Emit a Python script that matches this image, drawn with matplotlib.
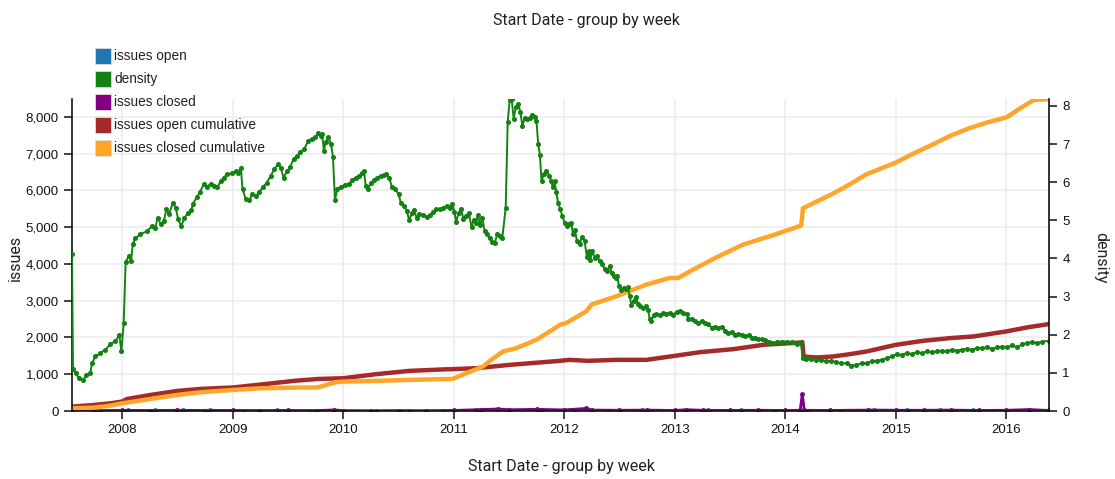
import matplotlib
matplotlib.use("Agg")
import matplotlib.pyplot as plt
import matplotlib.ticker as mticker
import matplotlib.dates as mdates
from matplotlib.patches import Rectangle
import pandas as pd

# values, x given as decimal years
green_years = [2007.547, 2007.556, 2007.583, 2007.607, 2007.647, 2007.677, 2007.713, 2007.728, 2007.758, 2007.804,
               2007.849, 2007.894, 2007.940, 2007.976, 2007.994, 2008.015, 2008.033, 2008.060, 2008.082, 2008.097,
               2008.121, 2008.166, 2008.227, 2008.272, 2008.302, 2008.323, 2008.353, 2008.378, 2008.402, 2008.423,
               2008.462, 2008.486, 2008.508, 2008.535, 2008.565, 2008.595, 2008.625, 2008.644, 2008.674, 2008.704,
               2008.740, 2008.770, 2008.801, 2008.831, 2008.861, 2008.891, 2008.921, 2008.952, 2008.997, 2009.027,
               2009.048, 2009.073, 2009.088, 2009.118, 2009.148, 2009.178, 2009.208, 2009.239, 2009.269, 2009.308,
               2009.344, 2009.375, 2009.411, 2009.435, 2009.459, 2009.489, 2009.520, 2009.550, 2009.580, 2009.610,
               2009.647, 2009.683, 2009.718, 2009.748, 2009.773, 2009.794, 2009.809, 2009.824, 2009.839, 2009.864,
               2009.888, 2009.906, 2009.924, 2009.945, 2009.976, 2010.015, 2010.052, 2010.082, 2010.112, 2010.142,
               2010.173, 2010.188, 2010.203, 2010.227, 2010.248, 2010.279, 2010.309, 2010.339, 2010.370, 2010.391,
               2010.415, 2010.439, 2010.470, 2010.500, 2010.521, 2010.552, 2010.573, 2010.597, 2010.621, 2010.642,
               2010.664, 2010.688, 2010.718, 2010.755, 2010.785, 2010.815, 2010.839, 2010.876, 2010.906, 2010.936,
               2010.961, 2010.985, 2011.006, 2011.021, 2011.045, 2011.067, 2011.088, 2011.112, 2011.136, 2011.161,
               2011.179, 2011.203, 2011.218, 2011.239, 2011.258, 2011.279, 2011.300, 2011.324, 2011.348, 2011.370,
               2011.394, 2011.415, 2011.439, 2011.470, 2011.488, 2011.506, 2011.524, 2011.542, 2011.561, 2011.585,
               2011.603, 2011.621, 2011.642, 2011.664, 2011.688, 2011.712, 2011.733, 2011.748, 2011.764, 2011.779,
               2011.794, 2011.815, 2011.839, 2011.864, 2011.882, 2011.897, 2011.912, 2011.927, 2011.943, 2011.964,
               2011.982, 2012.003, 2012.024, 2012.042, 2012.063, 2012.079, 2012.097, 2012.115, 2012.139, 2012.160,
               2012.184, 2012.205, 2012.224, 2012.236, 2012.254, 2012.275, 2012.296, 2012.320, 2012.344, 2012.366,
               2012.387, 2012.411, 2012.429, 2012.447, 2012.465, 2012.480, 2012.495, 2012.517, 2012.538, 2012.556,
               2012.577, 2012.592, 2012.607, 2012.628, 2012.647, 2012.668, 2012.689, 2012.713, 2012.737, 2012.758,
               2012.773, 2012.789, 2012.810, 2012.834, 2012.864, 2012.894, 2012.924, 2012.955, 2012.985, 2013.015,
               2013.045, 2013.076, 2013.106, 2013.121, 2013.151, 2013.181, 2013.211, 2013.242, 2013.272, 2013.302,
               2013.332, 2013.363, 2013.393, 2013.423, 2013.453, 2013.483, 2013.514, 2013.544, 2013.574, 2013.604,
               2013.634, 2013.665, 2013.695, 2013.725, 2013.755, 2013.785, 2013.816, 2013.846, 2013.876, 2013.921,
               2013.967, 2014.012, 2014.057, 2014.103, 2014.142, 2014.158, 2014.188, 2014.233, 2014.279, 2014.324,
               2014.367, 2014.415, 2014.461, 2014.506, 2014.552, 2014.597, 2014.642, 2014.688, 2014.733, 2014.779,
               2014.824, 2014.870, 2014.915, 2014.961, 2015.006, 2015.052, 2015.097, 2015.142, 2015.188, 2015.233,
               2015.279, 2015.324, 2015.370, 2015.415, 2015.461, 2015.506, 2015.552, 2015.597, 2015.642, 2015.688,
               2015.733, 2015.779, 2015.824, 2015.870, 2015.915, 2015.961, 2016.006, 2016.052, 2016.097, 2016.142,
               2016.188, 2016.233, 2016.279, 2016.324, 2016.385]
density = [4.12, 1.10, 0.99, 0.86, 0.80, 0.95, 0.99, 1.25, 1.43, 1.52,
           1.61, 1.75, 1.84, 1.98, 1.56, 2.30, 3.91, 4.06, 3.93, 4.37,
           4.53, 4.63, 4.72, 4.85, 4.81, 5.07, 4.89, 4.98, 5.29, 5.16,
           5.46, 5.33, 5.03, 4.85, 5.05, 5.20, 5.26, 5.44, 5.60, 5.73,
           5.95, 5.88, 5.96, 5.90, 5.86, 6.02, 6.12, 6.21, 6.23, 6.28,
           6.25, 6.37, 5.82, 5.55, 5.53, 5.68, 5.64, 5.73, 5.86, 5.99,
           6.17, 6.34, 6.47, 6.37, 6.12, 6.28, 6.40, 6.61, 6.69, 6.78,
           6.87, 7.09, 7.13, 7.19, 7.28, 7.22, 7.26, 6.82, 7.04, 7.18,
           7.00, 6.67, 5.53, 5.82, 5.88, 5.93, 5.96, 6.05, 6.12, 6.17,
           6.25, 6.28, 5.90, 5.83, 5.99, 6.05, 6.12, 6.17, 6.19, 6.21,
           6.12, 5.88, 5.82, 5.68, 5.46, 5.38, 5.25, 5.00, 5.20, 5.26,
           5.05, 5.16, 5.14, 5.09, 5.14, 5.23, 5.29, 5.29, 5.33, 5.38,
           5.33, 5.42, 5.23, 4.96, 5.20, 5.29, 5.03, 5.11, 5.20, 4.82,
           5.00, 4.94, 5.14, 4.88, 5.07, 4.72, 4.63, 4.53, 4.44, 4.41,
           4.63, 4.59, 4.53, 5.33, 7.57, 8.16, 8.18, 7.66, 7.96, 8.04,
           7.83, 7.48, 7.68, 7.66, 7.68, 7.75, 7.70, 7.61, 7.00, 6.72,
           6.04, 6.21, 6.30, 6.17, 6.02, 5.86, 6.02, 5.75, 5.46, 5.29,
           5.11, 4.94, 4.85, 4.89, 4.94, 4.65, 4.74, 4.46, 4.37, 4.56,
           4.46, 4.04, 4.19, 3.97, 4.19, 4.02, 4.06, 3.93, 3.86, 3.71,
           3.67, 3.80, 3.62, 3.54, 3.49, 3.54, 3.27, 3.18, 3.23, 3.21,
           3.25, 3.01, 2.79, 2.89, 2.98, 2.81, 2.75, 2.70, 2.75, 2.66,
           2.42, 2.37, 2.53, 2.54, 2.53, 2.57, 2.54, 2.57, 2.53, 2.60,
           2.61, 2.57, 2.54, 2.42, 2.42, 2.37, 2.31, 2.35, 2.31, 2.28,
           2.18, 2.20, 2.18, 2.20, 2.09, 2.04, 2.07, 2.00, 2.02, 2.00,
           1.96, 1.98, 1.91, 1.91, 1.89, 1.89, 1.87, 1.81, 1.78, 1.81,
           1.82, 1.82, 1.81, 1.75, 1.78, 1.39, 1.37, 1.36, 1.34, 1.34,
           1.30, 1.32, 1.28, 1.25, 1.25, 1.19, 1.21, 1.25, 1.25, 1.30,
           1.32, 1.34, 1.39, 1.43, 1.49, 1.47, 1.52, 1.49, 1.54, 1.52,
           1.56, 1.54, 1.56, 1.58, 1.56, 1.61, 1.58, 1.61, 1.63, 1.61,
           1.65, 1.65, 1.67, 1.63, 1.67, 1.69, 1.67, 1.72, 1.67, 1.75,
           1.78, 1.81, 1.78, 1.82, 1.84]

open_cum_years = [2007.547, 2007.743, 2007.894, 2008.000, 2008.045, 2008.257, 2008.498, 2008.710, 2009.003, 2009.254,
                  2009.556, 2009.767, 2010.000, 2010.294, 2010.597, 2010.900, 2011.000, 2011.203, 2011.506, 2011.809,
                  2011.961, 2012.048, 2012.215, 2012.471, 2012.743, 2013.000, 2013.227, 2013.529, 2013.801, 2014.133,
                  2014.152, 2014.164, 2014.279, 2014.430, 2014.582, 2014.733, 2015.000, 2015.248, 2015.491, 2015.703,
                  2016.000, 2016.188, 2016.385]
open_cum = [118, 164, 209, 255, 327, 436, 545, 600, 640, 720,
            820, 870, 891, 1000, 1091, 1130, 1140, 1164, 1255, 1327,
            1364, 1390, 1364, 1391, 1391, 1500, 1600, 1682, 1800, 1860,
            1873, 1482, 1455, 1482, 1545, 1618, 1800, 1909, 1982, 2027,
            2164, 2273, 2364]

closed_cum_years = [2007.547, 2007.743, 2007.894, 2008.000, 2008.106, 2008.257, 2008.498, 2008.710, 2009.003, 2009.254,
                    2009.556, 2009.767, 2009.930, 2010.000, 2010.294, 2010.597, 2010.991, 2011.112, 2011.264, 2011.339,
                    2011.445, 2011.567, 2011.748, 2011.870, 2011.961, 2012.018, 2012.199, 2012.245, 2012.471, 2012.743,
                    2012.955, 2013.030, 2013.136, 2013.378, 2013.619, 2013.861, 2014.142, 2014.158, 2014.279, 2014.430,
                    2014.582, 2014.733, 2015.000, 2015.158, 2015.339, 2015.491, 2015.642, 2015.824, 2016.000, 2016.127,
                    2016.248, 2016.385]
closed_cum = [73, 91, 145, 209, 255, 327, 436, 509, 573, 618,
              636, 640, 782, 800, 818, 845, 873, 1027, 1209, 1391,
              1618, 1709, 1936, 2164, 2345, 2391, 2709, 2891, 3118, 3436,
              3618, 3618, 3800, 4182, 4527, 4755, 5040, 5509, 5691, 5909,
              6164, 6436, 6755, 7000, 7255, 7482, 7664, 7845, 7982, 8236,
              8455, 8482]

closed_years = [2007.547, 2007.75, 2008.0, 2008.25, 2008.5, 2008.75, 2009.0, 2009.25, 2009.5, 2009.75,
                2009.92, 2010.0, 2010.25, 2010.5, 2010.75, 2011.0, 2011.25, 2011.4, 2011.5, 2011.75,
                2012.0, 2012.2, 2012.25, 2012.5, 2012.75, 2013.0, 2013.1, 2013.25, 2013.5, 2013.75,
                2014.0, 2014.133, 2014.152, 2014.17, 2014.4, 2014.75, 2015.0, 2015.25, 2015.5, 2015.75,
                2016.0, 2016.2, 2016.385]
closed = [0, 5, 15, 10, 20, 10, 15, 10, 15, 10,
          30, 10, 5, 10, 5, 15, 40, 55, 35, 45,
          30, 70, 25, 20, 25, 15, 35, 20, 15, 20,
          15, 20, 460, 20, 15, 25, 20, 20, 25, 15,
          20, 40, 15]

opened_years = [2007.547, 2007.8, 2008.05, 2008.3, 2008.55, 2008.8, 2009.1, 2009.4, 2009.7, 2010.0,
                2010.3, 2010.6, 2010.9, 2011.2, 2011.5, 2011.8, 2012.1, 2012.4, 2012.7, 2013.0,
                2013.3, 2013.6, 2013.9, 2014.2, 2014.5, 2014.8, 2015.1, 2015.4, 2015.7, 2016.0,
                2016.2, 2016.385]
opened = [5, 10, 25, 15, 20, 30, 10, 15, 10, 8,
          5, 10, 12, 20, 25, 15, 20, 10, 18, 12,
          15, 20, 10, 12, 8, 30, 25, 15, 20, 10,
          25, 20]

year_ticks = [2008, 2009, 2010, 2011, 2012, 2013, 2014, 2015, 2016]

legend_names = ["issues open", "density", "issues closed", "issues open cumulative", "issues closed cumulative"]
c_open, c_dens, c_closed, c_ocum, c_ccum = "#1f77b4", "#128212", "#800080", "#a52a2a", "#ffa52a"


def to_dates(years):
    out = []
    for y in years:
        yr = int(y)
        out.append(pd.Timestamp(year=yr, month=1, day=1) + pd.Timedelta(days=(y - yr) * 365.25))
    return out


W, H = 1115, 479
fig = plt.figure(figsize=(W / 100, H / 100), dpi=100)
ax = fig.add_axes([72 / W, 68 / H, (1049 - 72) / W, (411 - 99) / H])
ax2 = ax.twinx()

tick_font = "Liberation Sans"
lab_font = "Roboto"

ax.grid(True, color="#eeeeee", lw=1.2)
ax.set_axisbelow(True)

ax.plot(to_dates(opened_years), opened, color=c_open, lw=1.5, marker="o", ms=2.5)
ax.plot(to_dates(closed_years), closed, color=c_closed, lw=2, marker="o", ms=2.5)
ax.plot(to_dates(open_cum_years), open_cum, color=c_ocum, lw=3.2, solid_capstyle="round")
ax.plot(to_dates(closed_cum_years), closed_cum, color=c_ccum, lw=3.2, solid_capstyle="round")
ax2.plot(to_dates(green_years), density, color=c_dens, lw=1.4, marker="o", ms=2.6)

dates = to_dates(green_years)
ax.set_xlim(dates[0], dates[-1])
ax.set_ylim(0, max(closed_cum))
ax2.set_ylim(0, max(density))

ax.set_xticks(to_dates(year_ticks))
ax.xaxis.set_major_formatter(mdates.DateFormatter("%Y"))
ax.set_yticks(range(0, 8001, 1000))
ax.yaxis.set_major_formatter(mticker.FuncFormatter(lambda v, p: f"{int(v):,}"))
ax2.set_yticks(range(0, 9))

for a in (ax, ax2):
    a.spines["top"].set_visible(False)
    for s in a.spines.values():
        s.set_linewidth(1.2)
        s.set_color("#111111")
    a.tick_params(length=6, width=1.1, labelsize=9.5, color="#111111", labelcolor="#111111")
    for lab in a.get_xticklabels() + a.get_yticklabels():
        lab.set_fontfamily(tick_font)
ax.spines["right"].set_visible(False)
ax2.spines["left"].set_visible(False)
ax2.spines["bottom"].set_visible(False)

fig.text(586 / W, 1 - 20 / H, "Start Date - group by week", ha="center", va="center",
         fontsize=11.5, family=lab_font, color="#222222")
fig.text(561 / W, 1 - 467 / H, "Start Date - group by week", ha="center", va="center",
         fontsize=11.5, family=lab_font, color="#222222")
fig.text(15 / W, 1 - 258 / H, "issues", ha="center", va="center", rotation=90,
         fontsize=11.5, family=lab_font, color="#222222")
fig.text(1101 / W, 1 - 258 / H, "density", ha="center", va="center", rotation=270,
         fontsize=11.5, family=lab_font, color="#222222")

# legend at the top left, drawn by hand
colors = [c_open, c_dens, c_closed, c_ocum, c_ccum]
for i, (name, c) in enumerate(zip(legend_names, colors)):
    yc = 56 + i * 23
    fig.add_artist(Rectangle((95 / W, 1 - (yc + 8) / H), 16 / W, 16 / H, transform=fig.transFigure,
                             facecolor=c, edgecolor="#dddddd", lw=0.6))
    fig.text(114 / W, 1 - yc / H, name, ha="left", va="center", fontsize=9.8,
             family=tick_font, color="#222222")

fig.savefig("out.png", dpi=100)
